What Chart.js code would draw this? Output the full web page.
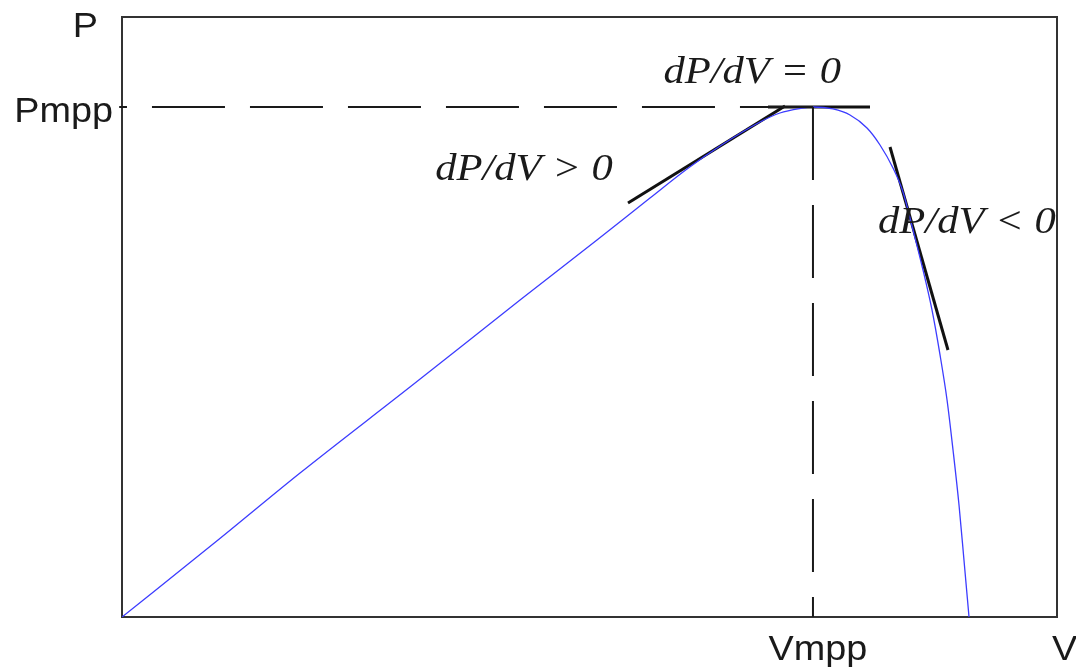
<!DOCTYPE html>
<html>
<head>
<meta charset="utf-8">
<title>P-V curve, maximum power point</title>
<script src="https://cdn.jsdelivr.net/npm/chart.js@4.4.1/dist/chart.umd.min.js"></script>
<style>
  html, body { margin: 0; padding: 0; background: #fff; }
  #wrap { width: 1076px; height: 669px; }
</style>
</head>
<body>
<div id="wrap"><canvas id="pv-chart" width="1076" height="669"></canvas></div>
<script>
// P-V curve of a PV module (relative units, 0..100 on both axes)
const voltage = [0, 10.27, 19.04, 30.8, 42.57, 50.80, 56.47, 60.43, 63.96, 68.24, 70.37, 72.51, 73.90,
                 76.04, 77.86, 79.68, 81.07, 82.46, 83.53, 84.60, 85.67, 86.63, 87.49, 88.24, 88.88,
                 89.52, 90.05, 90.59];
const power = [0, 12.83, 24.0, 38.33, 52.83, 62.83, 69.83, 74.67, 78.5, 82.5, 84.0, 84.75, 85.0,
               84.67, 83.67, 81.5, 78.67, 74.83, 70.83, 64.5, 57.83, 51.17, 43.67, 36.17, 27.83,
               18.67, 9.5, 0];

// maximum power point
const vMpp = 73.9;
const pMpp = 85.0;

// tangent segments [x0, x1], [y0, y1]
const tangentZeroX = [69.09, 80.0];
const tangentZeroY = [85.0, 85.0];
const tangentPosX = [54.12, 70.91];
const tangentPosY = [69.0, 85.17];
const tangentNegX = [82.14, 88.34];
const tangentNegY = [78.33, 44.5];

const slopeLabels = ["dP/dV = 0", "dP/dV > 0", "dP/dV < 0"];

const toPoints = (xs, ys) => xs.map((x, i) => ({ x: x, y: ys[i] }));

const SANS = '"Liberation Sans", Arial, sans-serif';
const SERIF = '"Liberation Serif", "Times New Roman", serif';
const INK = "#1a1a1a";

// draws stretched text (the labels are a bit wider than the plain font)
function drawText(ctx, text, x, y, font, align, stretch) {
    ctx.save();
    ctx.font = font;
    ctx.fillStyle = INK;
    ctx.textBaseline = "alphabetic";
    const w = ctx.measureText(text).width * stretch;
    let left = x;
    if (align === "right") left = x - w;
    if (align === "center") left = x - w / 2;
    ctx.translate(left, y);
    ctx.scale(stretch, 1);
    ctx.textAlign = "left";
    ctx.fillText(text, 0, 0);
    ctx.restore();
}

// frame box + axis labels + slope annotations
const frameAndLabels = {
    id: "frameAndLabels",
    beforeDatasetsDraw(chart) {
        const { ctx, chartArea: a } = chart;
        ctx.save();
        ctx.strokeStyle = "#333";
        ctx.lineWidth = 2;
        ctx.strokeRect(a.left, a.top, a.right - a.left, a.bottom - a.top);
        ctx.restore();
    },
    afterDatasetsDraw(chart) {
        const { ctx, chartArea: a, scales } = chart;
        const xs = scales.x, ys = scales.y;
        const sans = "35px " + SANS;
        const serif = "italic 37px " + SERIF;

        drawText(ctx, "P", a.left - 24, a.top + 20, sans, "right", 1.08);
        drawText(ctx, "Pmpp", a.left - 9, ys.getPixelForValue(pMpp) + 15, sans, "right", 1.08);
        drawText(ctx, "Vmpp", xs.getPixelForValue(vMpp) + 5, a.bottom + 43, sans, "center", 1.08);
        drawText(ctx, "V", a.right - 5, a.bottom + 43, sans, "left", 1.08);

        drawText(ctx, slopeLabels[0], xs.getPixelForValue(67.4), ys.getPixelForValue(89.0), serif, "center", 1.15);
        drawText(ctx, slopeLabels[1], xs.getPixelForValue(43.0), ys.getPixelForValue(72.83), serif, "center", 1.15);
        drawText(ctx, slopeLabels[2], xs.getPixelForValue(80.86), ys.getPixelForValue(64.0), serif, "left", 1.15);
    }
};

const ctx = document.getElementById("pv-chart").getContext("2d");

const lineStyle = (color, width, dash) => ({
    type: "line",
    borderColor: color,
    borderWidth: width,
    borderDash: dash || [],
    pointRadius: 0,
    fill: false,
    tension: 0,
    clip: false,
});

new Chart(ctx, {
    type: "line",
    data: {
        datasets: [
            Object.assign(lineStyle(INK, 2, [73, 25]), {
                label: "Pmpp",
                data: [{ x: vMpp, y: pMpp }, { x: -0.3, y: pMpp }],
            }),
            Object.assign(lineStyle(INK, 2, [73, 25]), {
                label: "Vmpp",
                data: [{ x: vMpp, y: pMpp }, { x: vMpp, y: 0 }],
            }),
            Object.assign(lineStyle("#3c3cff", 1.3), {
                label: "P(V)",
                data: toPoints(voltage, power),
                cubicInterpolationMode: "monotone",
                clip: true,
            }),
            Object.assign(lineStyle("#111", 3), {
                label: "dP/dV = 0",
                data: toPoints(tangentZeroX, tangentZeroY),
            }),
            Object.assign(lineStyle("#111", 3), {
                label: "dP/dV > 0",
                data: toPoints(tangentPosX, tangentPosY),
            }),
            Object.assign(lineStyle("#111", 3), {
                label: "dP/dV < 0",
                data: toPoints(tangentNegX, tangentNegY),
            }),
        ],
    },
    options: {
        responsive: false,
        animation: false,
        events: [],
        layout: {
            autoPadding: false,
            padding: { left: 122, top: 17, right: 19, bottom: 52 },
        },
        scales: {
            x: { type: "linear", min: 0, max: 100, display: false },
            y: { type: "linear", min: 0, max: 100, display: false },
        },
        plugins: {
            legend: { display: false },
            tooltip: { enabled: false },
        },
    },
    plugins: [frameAndLabels],
});
</script>
</body>
</html>
